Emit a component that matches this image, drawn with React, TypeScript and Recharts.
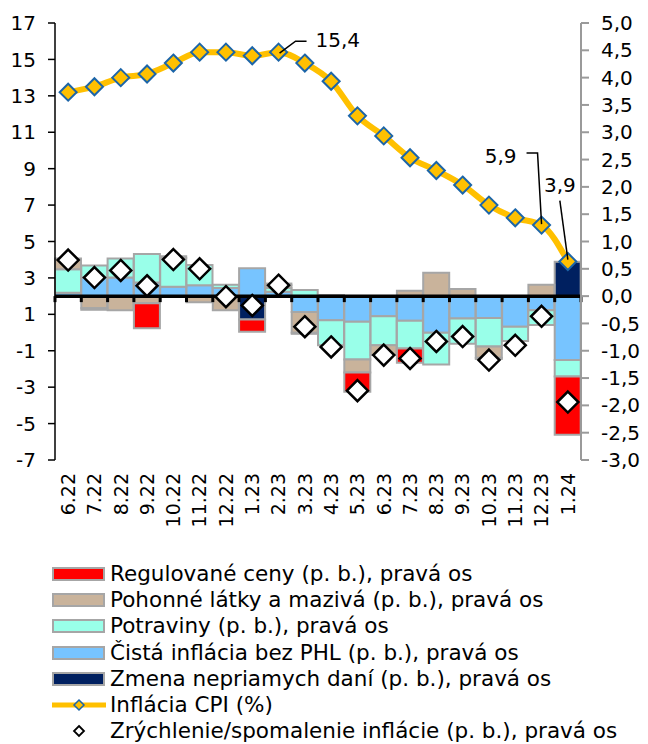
import React from 'react';
import { ComposedChart, Bar, Line, XAxis, YAxis, ReferenceLine } from 'recharts';

const months = ['6.22', '7.22', '8.22', '9.22', '10.22', '11.22', '12.22', '1.23', '2.23', '3.23', '4.23', '5.23', '6.23', '7.23', '8.23', '9.23', '10.23', '11.23', '12.23', '1.24'];
const cpi = [13.2, 13.5, 14.0, 14.2, 14.8, 15.4, 15.4, 15.2, 15.4, 14.8, 13.8, 11.9, 10.8, 9.6, 8.9, 8.1, 7.0, 6.3, 5.9, 3.9];
const zmenaDani = [0, 0, 0, 0, 0, 0, 0, -0.43, 0, 0, 0, 0, 0, 0, 0, 0, 0, 0, 0, 0.63];
const cistaInflacia = [0.06, 0.34, 0.34, 0.25, 0.17, 0.2, 0.15, 0.51, 0.08, -0.29, -0.44, -0.47, -0.37, -0.45, -0.67, -0.41, -0.4, -0.56, -0.26, -1.17];
const potraviny = [0.43, 0.22, 0.35, 0.52, 0.53, 0.37, 0.06, 0, 0.07, 0.11, -0.46, -0.69, -0.53, -0.51, -0.58, -0.46, -0.52, -0.26, -0.27, -0.3];
const pohonneLatky = [0.2, -0.22, -0.26, -0.13, 0.03, -0.11, -0.26, 0, 0.05, -0.38, 0.02, -0.24, -0.18, 0.1, 0.43, 0.13, -0.21, 0, 0.21, 0];
const regulovaneCeny = [0, -0.03, 0, -0.46, 0, 0, 0, -0.22, 0.03, -0.02, 0, -0.35, 0, -0.26, 0, 0, -0.02, 0, 0, -1.07];
const zrychlenie = [0.66, 0.34, 0.47, 0.19, 0.67, 0.5, -0.01, -0.17, 0.2, -0.56, -0.93, -1.73, -1.08, -1.14, -0.83, -0.74, -1.17, -0.9, -0.37, -1.94];
const leftTicks = [-7, -5, -3, -1, 1, 3, 5, 7, 9, 11, 13, 15, 17];
const rightTicks = [-3, -2.5, -2, -1.5, -1, -0.5, 0, 0.5, 1, 1.5, 2, 2.5, 3, 3.5, 4, 4.5, 5];
const calloutMonths = ['2.23', '12.23', '1.24'];

const legendLabels = [
  'Regulované ceny (p. b.), pravá os',
  'Pohonné látky a mazivá (p. b.), pravá os',
  'Potraviny (p. b.), pravá os',
  'Čistá inflácia bez PHL (p. b.), pravá os',
  'Zmena nepriamych daní (p. b.), pravá os',
  'Inflácia CPI (%)',
  'Zrýchlenie/spomalenie inflácie (p. b.), pravá os',
];

const data = months.map((m, i) => ({
  month: m,
  cpi: cpi[i],
  dane: zmenaDani[i],
  cista: cistaInflacia[i],
  pot: potraviny[i],
  poh: pohonneLatky[i],
  reg: regulovaneCeny[i],
  zr: zrychlenie[i],
}));

const FONT = '"DejaVu Sans", Verdana, sans-serif';
const C_RED = '#FF0000';
const C_TAN = '#C9B39B';
const C_CYAN = '#99FFE9';
const C_BLUE = '#77C4FF';
const C_NAVY = '#002060';
const C_GOLD = '#FFC000';
const C_MARK = '#1C65A8';
const C_BORDER = '#A6A6A6';

const fmt = (v: number) => v.toFixed(1).replace('.', ',');

const XTick = (props: any) => {
  const { x, y, payload } = props;
  const ty = y + 13;
  return (
    <text x={x} y={ty} transform={`rotate(-90, ${x}, ${ty})`} textAnchor="end" dy="0.36em" fontSize={19} fontFamily={FONT} fill="#000">
      {payload.value}
    </text>
  );
};

const CpiDot = (props: any) => {
  const { cx, cy, index, payload } = props;
  if (cx == null || cy == null) return null;
  const r = 8.5;
  const diamond = (
    <path d={`M${cx},${cy - r} L${cx + r},${cy} L${cx},${cy + r} L${cx - r},${cy} Z`} fill={C_GOLD} stroke={C_MARK} strokeWidth={2} />
  );
  let callout: any = null;
  const idx = calloutMonths.indexOf(payload.month);
  const txt = fmt(payload.cpi);
  const ts = { fontSize: 20, fontFamily: FONT, fill: '#000' } as any;
  if (idx === 0) {
    callout = (
      <g>
        <polyline points={`${cx + 1},${cy + 1} ${cx + 17},${cy - 11} ${cx + 28},${cy - 11}`} fill="none" stroke="#000" strokeWidth={1.5} />
        <text x={cx + 37} y={cy - 12} dy="0.36em" {...ts}>{txt}</text>
      </g>
    );
  } else if (idx === 1) {
    callout = (
      <g>
        <polyline points={`${cx},${cy - 1} ${cx - 4},${cy - 72} ${cx - 15},${cy - 72}`} fill="none" stroke="#000" strokeWidth={1.5} />
        <text x={cx - 25} y={cy - 69} dy="0.36em" textAnchor="end" {...ts}>{txt}</text>
      </g>
    );
  } else if (idx === 2) {
    callout = (
      <g>
        <polyline points={`${cx},${cy - 2} ${cx - 8},${cy - 61}`} fill="none" stroke="#000" strokeWidth={1.5} />
        <text x={cx - 8} y={cy - 77} dy="0.36em" textAnchor="middle" {...ts}>{txt}</text>
      </g>
    );
  }
  return (
    <g key={`cpi-${index}`}>
      {diamond}
      {callout}
    </g>
  );
};

const ZrDot = (props: any) => {
  const { cx, cy, index } = props;
  if (cx == null || cy == null) return null;
  const r = 10.5;
  return (
    <path key={`zr-${index}`} d={`M${cx},${cy - r} L${cx + r},${cy} L${cx},${cy + r} L${cx - r},${cy} Z`} fill="#fff" stroke="#000" strokeWidth={2.5} />
  );
};

const legendRow = (i: number) => {
  const top = 561 + i * 26.2;
  const label = legendLabels[i];
  let icon: any;
  const fills = [C_RED, C_TAN, C_CYAN, C_BLUE, C_NAVY];
  if (i < 5) {
    icon = <rect x={53} y={7} width={51} height={12} fill={fills[i]} stroke={C_BORDER} strokeWidth={2} />;
  } else if (i === 5) {
    icon = (
      <g>
        <line x1={52} y1={13} x2={106} y2={13} stroke={C_GOLD} strokeWidth={5} />
        <path d="M79,8 L84,13 L79,18 L74,13 Z" fill={C_GOLD} stroke={C_MARK} strokeWidth={1.5} />
      </g>
    );
  } else {
    icon = <path d="M79,8 L84,13 L79,18 L74,13 Z" fill="#fff" stroke="#000" strokeWidth={1.8} />;
  }
  return (
    <div key={label} style={{ position: 'absolute', left: 0, top, width: 648, height: 26 }}>
      <svg width={110} height={26} style={{ position: 'absolute', left: 0, top: 0 }}>{icon}</svg>
      <span style={{ position: 'absolute', left: 110, top: 0, fontFamily: FONT, fontSize: 21.5, lineHeight: '26px', whiteSpace: 'nowrap', color: '#000' }}>{label}</span>
    </div>
  );
};

export default function App() {
  return (
    <div style={{ position: 'relative', width: 648, height: 744, background: '#fff', overflow: 'hidden' }}>
      <style>{'body{margin:0;}'}</style>
      <ComposedChart
        width={648}
        height={744}
        data={data}
        stackOffset="sign"
        barCategoryGap={0}
        barGap={0}
        margin={{ top: 23, right: 0, bottom: 204, left: 0 }}
      >
        <XAxis dataKey="month" height={80} interval={0} axisLine={false} tickLine={false} tickSize={0} tickMargin={0} tick={<XTick />} />
        <YAxis
          yAxisId="left"
          orientation="left"
          width={55}
          domain={[-7, 17]}
          ticks={leftTicks}
          interval={0}
          axisLine={{ stroke: '#000', strokeWidth: 1.5 }}
          tickLine={{ stroke: '#000', strokeWidth: 1.5 }}
          tickSize={7}
          tickMargin={12}
          tick={{ fontSize: 20, fontFamily: FONT, fill: '#000' }}
        />
        <YAxis
          yAxisId="right"
          orientation="right"
          width={67}
          domain={[-3, 5]}
          ticks={rightTicks}
          interval={0}
          axisLine={{ stroke: '#9A9A9A', strokeWidth: 2 }}
          tickLine={{ stroke: '#9A9A9A', strokeWidth: 2 }}
          tickSize={8}
          tickMargin={12}
          tickFormatter={fmt}
          tick={{ fontSize: 20, fontFamily: FONT, fill: '#000', textAnchor: 'start' }}
        />
        <Bar yAxisId="right" dataKey="dane" stackId="s" fill={C_NAVY} stroke={C_BORDER} strokeWidth={2} isAnimationActive={false} />
        <Bar yAxisId="right" dataKey="cista" stackId="s" fill={C_BLUE} stroke={C_BORDER} strokeWidth={2} isAnimationActive={false} />
        <Bar yAxisId="right" dataKey="pot" stackId="s" fill={C_CYAN} stroke={C_BORDER} strokeWidth={2} isAnimationActive={false} />
        <Bar yAxisId="right" dataKey="poh" stackId="s" fill={C_TAN} stroke={C_BORDER} strokeWidth={2} isAnimationActive={false} />
        <Bar yAxisId="right" dataKey="reg" stackId="s" fill={C_RED} stroke={C_BORDER} strokeWidth={2} isAnimationActive={false} />
        <ReferenceLine yAxisId="right" y={0} stroke="#000" strokeWidth={3.5} />
        {months.map((m) => (
          <ReferenceLine key={`tk-${m}`} yAxisId="right" segment={[{ x: m, y: 0 }, { x: m, y: -0.11 }]} position="start" stroke="#000" strokeWidth={3} />
        ))}
        <ReferenceLine yAxisId="right" segment={[{ x: months[months.length - 1], y: 0 }, { x: months[months.length - 1], y: -0.11 }]} position="end" stroke="#000" strokeWidth={3} />
        <Line yAxisId="left" type="monotone" dataKey="cpi" stroke={C_GOLD} strokeWidth={6} dot={<CpiDot />} activeDot={false} isAnimationActive={false} />
        <Line yAxisId="right" type="linear" dataKey="zr" stroke="none" strokeWidth={0} dot={<ZrDot />} activeDot={false} isAnimationActive={false} />
      </ComposedChart>
      <div style={{ position: 'absolute', left: 0, top: 0 }}>
        {legendLabels.map((_, i) => legendRow(i))}
      </div>
    </div>
  );
}
